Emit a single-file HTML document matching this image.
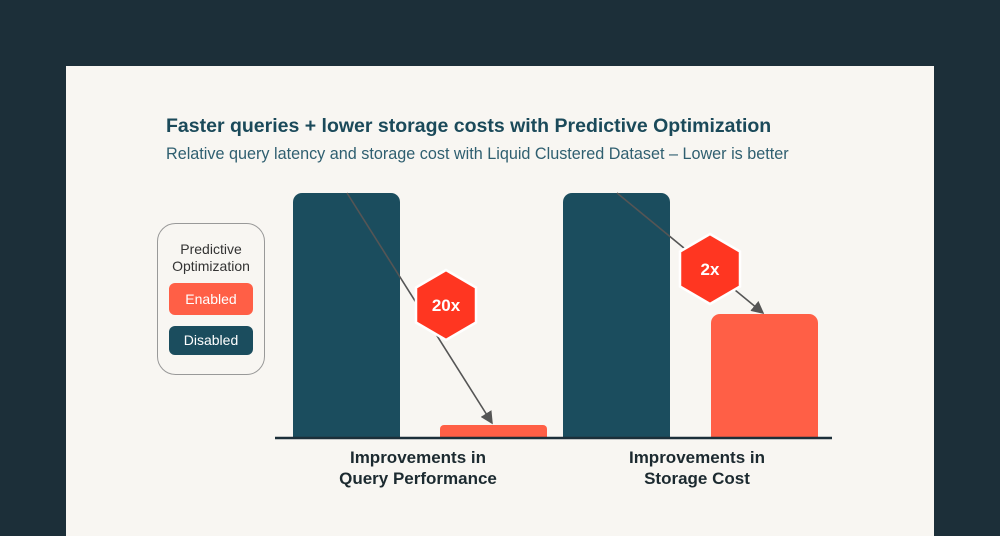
<!DOCTYPE html>
<html><head><meta charset="utf-8"><style>
body{margin:0;width:1000px;height:523px;background:#1c2f39;overflow:hidden;font-family:"Liberation Sans",sans-serif;}
.card{position:absolute;left:66px;top:66px;width:868px;height:470px;background:#f8f6f2;}
</style></head><body>
<div class="card"></div>
<svg width="1000" height="523" style="position:absolute;left:0;top:0" font-family="Liberation Sans, sans-serif">
<text x="166" y="132" font-size="19.5" font-weight="bold" fill="#1b4a5a">Faster queries + lower storage costs with Predictive Optimization</text>
<text x="166" y="159" font-size="16.2" fill="#2f5f70">Relative query latency and storage cost with Liquid Clustered Dataset – Lower is better</text>
<rect x="293" y="193" width="107" height="260" rx="9" fill="#1b4d5e"/>
<rect x="440" y="425" width="107" height="30" rx="4" fill="#ff5f46"/>
<rect x="563" y="193" width="107" height="260" rx="9" fill="#1b4d5e"/>
<rect x="711" y="314" width="107" height="140" rx="9" fill="#ff5f46"/>
<rect x="66" y="439" width="868" height="90" fill="#f8f6f2"/>
<line x1="275" y1="438" x2="832" y2="438" stroke="#1c2f39" stroke-width="2.5"/>
<defs><marker id="a" markerWidth="8" markerHeight="8" refX="7" refY="4" orient="auto"><path d="M0,0 L8,4 L0,8z" fill="#555"/></marker></defs>
<line x1="347" y1="193" x2="492" y2="423" stroke="#555" stroke-width="1.6" marker-end="url(#a)"/>
<line x1="617" y1="193" x2="763" y2="313" stroke="#555" stroke-width="1.6" marker-end="url(#a)"/>
<polygon points="446,270 476,287.5 476,322.5 446,340 416,322.5 416,287.5" fill="#ff3621" stroke="#fff" stroke-width="2.5"/>
<text x="446" y="311" font-size="17" font-weight="bold" fill="#fff" text-anchor="middle">20x</text>
<polygon points="710,234 740,251.5 740,286.5 710,304 680,286.5 680,251.5" fill="#ff3621" stroke="#fff" stroke-width="2.5"/>
<text x="710" y="275" font-size="17" font-weight="bold" fill="#fff" text-anchor="middle">2x</text>
<rect x="157.5" y="223.5" width="107" height="151" rx="18" fill="none" stroke="#999" stroke-width="1"/>
<text x="211" y="254" font-size="14" fill="#333" text-anchor="middle">Predictive</text>
<text x="211" y="271" font-size="14" fill="#333" text-anchor="middle">Optimization</text>
<rect x="169" y="283" width="84" height="32" rx="6" fill="#ff5f46"/>
<text x="211" y="304" font-size="14" fill="#fff" text-anchor="middle">Enabled</text>
<rect x="169" y="326" width="84" height="29" rx="6" fill="#1b4d5e"/>
<text x="211" y="345" font-size="14" fill="#fff" text-anchor="middle">Disabled</text>
<text x="418" y="463" font-size="17" font-weight="bold" fill="#1c2a30" text-anchor="middle">Improvements in</text>
<text x="418" y="484" font-size="17" font-weight="bold" fill="#1c2a30" text-anchor="middle">Query Performance</text>
<text x="697" y="463" font-size="17" font-weight="bold" fill="#1c2a30" text-anchor="middle">Improvements in</text>
<text x="697" y="484" font-size="17" font-weight="bold" fill="#1c2a30" text-anchor="middle">Storage Cost</text>
</svg>
</body></html>
